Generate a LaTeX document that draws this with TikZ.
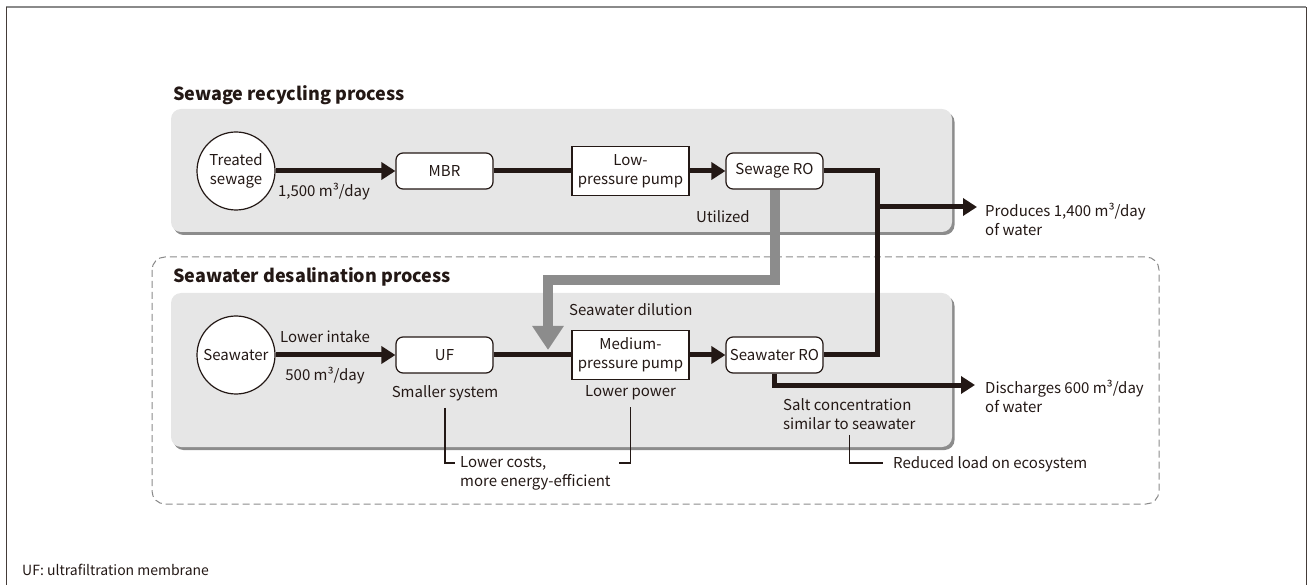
\documentclass[tikz,border=0pt]{standalone}
\usepackage{fontspec}
\setmainfont{Noto Sans CJK JP}
\usetikzlibrary{arrows.meta,shadows}

\definecolor{ink}{HTML}{231815}
\definecolor{panelgray}{HTML}{E6E6E6}
\definecolor{pipegray}{HTML}{8C8C8C}
\definecolor{framegray}{HTML}{8A8A8A}

\begin{document}
\begin{tikzpicture}[x=1pt,y=-1pt]
   \tikzstyle{every node}=[font=\fontsize{15}{19}\selectfont, text=ink, inner sep=0pt]
   \tikzstyle{panel}=[fill=panelgray, rounded corners=10pt, drop shadow={shadow xshift=2.5pt, shadow yshift=-3pt, fill=black!60, opacity=0.75}]
   \tikzstyle{heading}=[anchor=west, font=\fontsize{18}{22}\selectfont\bfseries]
   \tikzstyle{unit}=[draw=ink, line width=1.2pt, fill=white, minimum width=97pt, minimum height=36pt, align=center]
   \tikzstyle{rounded unit}=[unit, rounded corners=7pt]
   \tikzstyle{pump}=[unit, minimum width=117pt, minimum height=49pt]
   \tikzstyle{source}=[circle, draw=ink, line width=1.2pt, fill=white, minimum size=78pt, align=center]
   \tikzstyle{flow}=[draw=ink, line width=5pt]
   \tikzstyle{feed}=[flow, -{Triangle[length=14pt, width=17pt]}]
   \tikzstyle{reuse}=[draw=pipegray, line width=10pt, -{Triangle[length=24pt, width=30pt]}]
   \tikzstyle{callout}=[draw=ink, line width=1.2pt]

\useasboundingbox (0,0) rectangle (1307,585);

% page frame
\draw[framegray, line width=2pt] (6,7) -- (1306,7);
\draw[ink!85, line width=1pt] (6,7) -- (6,585);
\draw[ink!85, line width=1pt] (1306,7) -- (1306,585);

% process panels
\draw[framegray, line width=1pt, dash pattern=on 7pt off 4pt, rounded corners=13pt] (152,257) rectangle (1159,504);
\path[panel] (171,109) rectangle (952,232);
\path[panel] (171,293) rectangle (952,447);
\node[heading] (recycling) at (173,95) {Sewage recycling process};
\node[heading] (desal) at (173,277) {Seawater desalination process};

% sewage line
\node[source] (sewage) at (236,171) {Treated\\sewage};
\node[rounded unit] (mbr) at (444.5,171) {MBR};
\node[pump] (lowpump) at (630.5,171) {Low-\\pressure pump};
\node[rounded unit] (sewro) at (774.5,171) {Sewage RO};

% seawater line
\node[source] (sea) at (236,355) {Seawater};
\node[rounded unit] (uf) at (444.5,355) {UF};
\node[pump] (medpump) at (630.5,355) {Medium-\\pressure pump};
\node[rounded unit] (searo) at (774.5,355) {Seawater RO};

\coordinate (riser top) at (877,171);
\coordinate (riser foot) at (877,355);
\coordinate (tap) at (877,207);
\coordinate (product) at (977,207);
\coordinate (outfall) at (975,385);
\coordinate (bend) at (548,280);
\coordinate (inlet) at (548,350);

\draw[feed] (sewage) -- (mbr);
\draw[flow] (mbr) -- (lowpump);
\draw[feed] (lowpump) -- (sewro);
\draw[flow] (sewro.east) -- (riser top) -- (riser foot) -- (searo.east);
\draw[feed] (tap) -- (product);

\draw[feed] (sea) -- (uf);
\draw[flow] (uf) -- (medpump);
\draw[feed] (medpump) -- (searo);
\draw[feed] (searo.south) |- (outfall);

\draw[reuse] (sewro.south) |- (bend) -- (inlet);

% labels
\node (inflow) at (324,192) {1,500 m³/day};
\node (utilized) at (723,217) {Utilized};
\node[anchor=west, align=left] (produce) at (985,219) {Produces 1,400 m³/day\\of water};
\node[anchor=west] (dilution) at (569,310) {Seawater dilution};
\node (intake) at (325,337) {Lower intake};
\node (intakeflow) at (325,376) {500 m³/day};
\node (smaller) at (445,393) {Smaller system};
\node (lowerpower) at (630.5,393) {Lower power};
\node[anchor=west, align=left] (discharge) at (985,396) {Discharges 600 m³/day\\of water};
\node[anchor=west, align=left] (salt) at (783,414) {Salt concentration\\similar to seawater};
\node[anchor=west, align=left] (savings) at (460,473.5) {Lower costs,\\more energy-efficient};
\node[anchor=west] (ecology) at (893,464) {Reduced load on ecosystem};

\coordinate (savings left) at (455,463);
\coordinate (savings right) at (619,463);
\coordinate (ecology left) at (883,463);
\draw[callout] ([yshift=-7pt]smaller.south) |- (savings left);
\draw[callout] ([yshift=-7pt]lowerpower.south) |- (savings right);
\draw[callout] ([yshift=-5pt]salt.south) |- (ecology left);

\node[anchor=west, font=\fontsize{14}{17}\selectfont] (note) at (22,570) {UF: ultrafiltration membrane};
\end{tikzpicture}
\end{document}
